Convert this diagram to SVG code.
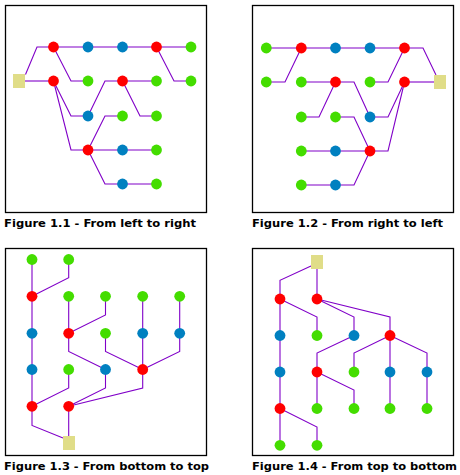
<svg xmlns="http://www.w3.org/2000/svg" width="460" height="475" viewBox="0 0 460 475">
<style>
.frame{fill:#fff;stroke:#000;stroke-width:1.3}
.edge{fill:none;stroke:#8000c8;stroke-width:1.1}
.r{fill:#ff0000}
.b{fill:#0080c0}
.g{fill:#44dd00}
.root{fill:#e0dd88}
.cap{font-family:"DejaVu Sans",Verdana,sans-serif;font-weight:bold;font-size:11px;fill:#000}
</style>
<rect width="460" height="475" fill="#fff"/>
<g id="frames">
<rect class="frame" x="5.5" y="5.5" width="201" height="207"/>
<rect class="frame" x="252.5" y="5.5" width="201" height="207"/>
<rect class="frame" x="5.5" y="248.5" width="201" height="207"/>
<rect class="frame" x="252.5" y="248.5" width="201" height="207"/>
</g>
<g id="connectors">
<!-- Figure 1.1 -->
<path class="edge" d="M25.5,74.5 L37,47 L191,47"/>
<path class="edge" d="M25,81 L53.5,81"/>
<path class="edge" d="M53.5,47 L71,81 L88,81"/>
<path class="edge" d="M156.5,47 L174,81 L191,81"/>
<path class="edge" d="M53.5,81 L71,116 L88,116"/>
<path class="edge" d="M53.5,81 L71,150 L156.5,150"/>
<path class="edge" d="M88,116 L105,81 L156.5,81"/>
<path class="edge" d="M122.5,81 L140,116 L156.5,116"/>
<path class="edge" d="M88,150 L105,116 L122.5,116"/>
<path class="edge" d="M88,150 L105,184 L156.5,184"/>
<!-- Figure 1.2 -->
<path class="edge" d="M266.3,48 L423,48 L436,75"/>
<path class="edge" d="M404.5,82 L434,82"/>
<path class="edge" d="M266.3,82 L285,82 L301.3,48"/>
<path class="edge" d="M301.3,82 L354,82 L370,117"/>
<path class="edge" d="M370,82 L388,82 L404.5,48"/>
<path class="edge" d="M301.3,117 L319,117 L335.5,82"/>
<path class="edge" d="M335.5,117 L354,117 L370,151"/>
<path class="edge" d="M370,117 L388,117 L404.5,82"/>
<path class="edge" d="M301.3,151 L388,151 L404.5,82"/>
<path class="edge" d="M301.3,185 L354,185 L370,151"/>
<!-- Figure 1.3 -->
<path class="edge" d="M32,259.5 V425.5 L63,438"/>
<path class="edge" d="M68.7,259.5 V277.7 L32,296.3"/>
<path class="edge" d="M68.7,296.3 V351.5 L105.5,369.5"/>
<path class="edge" d="M105.5,296.3 V315 L68.7,333.3"/>
<path class="edge" d="M142.7,296.3 V388 L68.7,406.3"/>
<path class="edge" d="M179.7,296.3 V351.5 L142.7,369.5"/>
<path class="edge" d="M105.5,333.3 V351.5 L142.7,369.5"/>
<path class="edge" d="M68.7,369.5 V388 L32,406.3"/>
<path class="edge" d="M105.5,369.5 V388 L68.7,406.3"/>
<path class="edge" d="M68.7,406.3 V436"/>
<!-- Figure 1.4 -->
<path class="edge" d="M311,266 L280,280.3 V445.3"/>
<path class="edge" d="M317,269 V299"/>
<path class="edge" d="M280,299 L317,317 V335.5"/>
<path class="edge" d="M317,299 L354,317 V335.5"/>
<path class="edge" d="M317,299 L390,317 V408.5"/>
<path class="edge" d="M354,335.5 L317,353 V408.5"/>
<path class="edge" d="M390,335.5 L354,353 V372"/>
<path class="edge" d="M390,335.5 L427,353 V408.5"/>
<path class="edge" d="M317,372 L354,390 V408.5"/>
<path class="edge" d="M280,408.5 L317,427 V445.3"/>
</g>
<g id="fig1">
<rect id="f1-root" class="root" x="13" y="74" width="12" height="14"/>
<circle class="r" cx="53.5" cy="47" r="5.4"/><circle class="b" cx="88" cy="47" r="5.4"/><circle class="b" cx="122.5" cy="47" r="5.4"/><circle class="r" cx="156.5" cy="47" r="5.4"/><circle class="g" cx="191" cy="47" r="5.4"/>
<circle class="r" cx="53.5" cy="81" r="5.4"/><circle class="g" cx="88" cy="81" r="5.4"/><circle class="r" cx="122.5" cy="81" r="5.4"/><circle class="g" cx="156.5" cy="81" r="5.4"/><circle class="g" cx="191" cy="81" r="5.4"/>
<circle class="b" cx="88" cy="116" r="5.4"/><circle class="g" cx="122.5" cy="116" r="5.4"/><circle class="g" cx="156.5" cy="116" r="5.4"/>
<circle class="r" cx="88" cy="150" r="5.4"/><circle class="b" cx="122.5" cy="150" r="5.4"/><circle class="g" cx="156.5" cy="150" r="5.4"/>
<circle class="b" cx="122.5" cy="184" r="5.4"/><circle class="g" cx="156.5" cy="184" r="5.4"/>
<text class="cap" x="4" y="226.5" textLength="192" lengthAdjust="spacingAndGlyphs">Figure 1.1 - From left to right</text>
</g>
<g id="fig2">
<rect id="f2-root" class="root" x="434" y="75" width="12" height="14"/>
<circle class="g" cx="266.3" cy="48" r="5.4"/><circle class="r" cx="301.3" cy="48" r="5.4"/><circle class="b" cx="335.5" cy="48" r="5.4"/><circle class="b" cx="370" cy="48" r="5.4"/><circle class="r" cx="404.5" cy="48" r="5.4"/>
<circle class="g" cx="266.3" cy="82" r="5.4"/><circle class="g" cx="301.3" cy="82" r="5.4"/><circle class="r" cx="335.5" cy="82" r="5.4"/><circle class="g" cx="370" cy="82" r="5.4"/><circle class="r" cx="404.5" cy="82" r="5.4"/>
<circle class="g" cx="301.3" cy="117" r="5.4"/><circle class="g" cx="335.5" cy="117" r="5.4"/><circle class="b" cx="370" cy="117" r="5.4"/>
<circle class="g" cx="301.3" cy="151" r="5.4"/><circle class="b" cx="335.5" cy="151" r="5.4"/><circle class="r" cx="370" cy="151" r="5.4"/>
<circle class="g" cx="301.3" cy="185" r="5.4"/><circle class="b" cx="335.5" cy="185" r="5.4"/>
<text class="cap" x="252" y="226.5" textLength="191" lengthAdjust="spacingAndGlyphs">Figure 1.2 - From right to left</text>
</g>
<g id="fig3">
<rect id="f3-root" class="root" x="63" y="436" width="12" height="14"/>
<circle class="g" cx="32" cy="259.5" r="5.4"/><circle class="g" cx="68.7" cy="259.5" r="5.4"/>
<circle class="r" cx="32" cy="296.3" r="5.4"/><circle class="g" cx="68.7" cy="296.3" r="5.4"/><circle class="g" cx="105.5" cy="296.3" r="5.4"/><circle class="g" cx="142.7" cy="296.3" r="5.4"/><circle class="g" cx="179.7" cy="296.3" r="5.4"/>
<circle class="b" cx="32" cy="333.3" r="5.4"/><circle class="r" cx="68.7" cy="333.3" r="5.4"/><circle class="g" cx="105.5" cy="333.3" r="5.4"/><circle class="b" cx="142.7" cy="333.3" r="5.4"/><circle class="b" cx="179.7" cy="333.3" r="5.4"/>
<circle class="b" cx="32" cy="369.5" r="5.4"/><circle class="g" cx="68.7" cy="369.5" r="5.4"/><circle class="b" cx="105.5" cy="369.5" r="5.4"/><circle class="r" cx="142.7" cy="369.5" r="5.4"/>
<circle class="r" cx="32" cy="406.3" r="5.4"/><circle class="r" cx="68.7" cy="406.3" r="5.4"/>
<text class="cap" x="4" y="470" textLength="205" lengthAdjust="spacingAndGlyphs">Figure 1.3 - From bottom to top</text>
</g>
<g id="fig4">
<rect id="f4-root" class="root" x="311" y="255" width="12" height="14"/>
<circle class="r" cx="280" cy="299" r="5.4"/><circle class="r" cx="317" cy="299" r="5.4"/>
<circle class="b" cx="280" cy="335.5" r="5.4"/><circle class="g" cx="317" cy="335.5" r="5.4"/><circle class="b" cx="354" cy="335.5" r="5.4"/><circle class="r" cx="390" cy="335.5" r="5.4"/>
<circle class="b" cx="280" cy="372" r="5.4"/><circle class="r" cx="317" cy="372" r="5.4"/><circle class="g" cx="354" cy="372" r="5.4"/><circle class="b" cx="390" cy="372" r="5.4"/><circle class="b" cx="427" cy="372" r="5.4"/>
<circle class="r" cx="280" cy="408.5" r="5.4"/><circle class="g" cx="317" cy="408.5" r="5.4"/><circle class="g" cx="354" cy="408.5" r="5.4"/><circle class="g" cx="390" cy="408.5" r="5.4"/><circle class="g" cx="427" cy="408.5" r="5.4"/>
<circle class="g" cx="280" cy="445.3" r="5.4"/><circle class="g" cx="317" cy="445.3" r="5.4"/>
<text class="cap" x="252" y="470" textLength="205" lengthAdjust="spacingAndGlyphs">Figure 1.4 - From top to bottom</text>
</g>
</svg>
